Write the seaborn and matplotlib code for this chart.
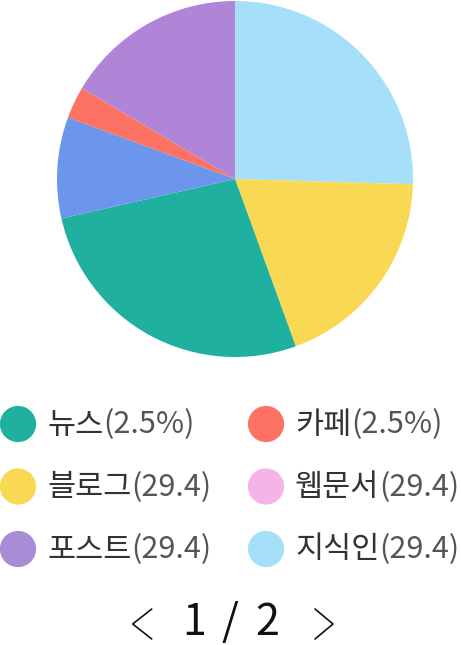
import matplotlib
matplotlib.use("Agg")
import matplotlib.pyplot as plt
import seaborn as sns
import pandas as pd

sns.set_theme(style="white")
plt.rcParams['font.family'] = ['Noto Sans CJK KR', 'DejaVu Sans']

# pie slices, clockwise from 12 o'clock (share in %)
slice_names = ['지식인', '블로그', '뉴스', '기타', '카페', '포스트']
slice_values = [25.5, 19.0, 27.0, 9.2, 2.9, 16.5]
slice_colors = ['#A6DFFA', '#F9D953', '#1FB0A0', '#6C96EC', '#FD7262', '#B085D8']

# legend page 1 of 2
legend_names = ['뉴스', '카페', '블로그', '웹문서', '포스트', '지식인']
legend_values = ['(2.5%)', '(2.5%)', '(29.4)', '(29.4)', '(29.4)', '(29.4)']
legend_colors = ['#1FB0A0', '#FD7262', '#F9D953', '#F4B4E8', '#A68DD5', '#A6DFFA']
page_parts = ['1', '/', '2']

W, H = 461, 645
fig = plt.figure(figsize=(W / 100, H / 100), dpi=100)

# pie
ax = fig.add_axes([57 / W, (H - 357) / H, 356 / W, 356 / H])
ax.pie(slice_values, colors=slice_colors, startangle=90, counterclock=False,
       radius=1, wedgeprops=dict(linewidth=0))
ax.set_xlim(-1, 1)
ax.set_ylim(-1, 1)
ax.set_aspect('equal')
ax.axis('off')

# overlay in pixel units for legend + pager
lax = fig.add_axes([0, 0, 1, 1])
lax.set_xlim(0, W)
lax.set_ylim(H, 0)
lax.axis('off')

leg = pd.DataFrame({'name': legend_names, 'value': legend_values, 'color': legend_colors})
leg['col'] = leg.index % 2
leg['row'] = leg.index // 2
leg['x'] = 18 + leg['col'] * 248
leg['y'] = 424 + leg['row'] * 62.5

sns.scatterplot(data=leg, x='x', y='y', hue='name', palette=dict(zip(legend_names, legend_colors)),
                s=680, linewidth=0, legend=False, ax=lax, clip_on=False)

fig.canvas.draw()
r = fig.canvas.get_renderer()
for _, row in leg.iterrows():
    t = lax.text(row['x'] + 29, row['y'] + 1, row['name'], fontsize=22, color='#333333',
                 va='center', ha='left')
    bb = t.get_window_extent(renderer=r)
    lax.text(bb.x1, row['y'] + 1, row['value'], fontsize=22, color='#555555',
             va='center', ha='left')

# pager
for px, s in zip([194, 230, 267], page_parts):
    lax.text(px, 623, s, fontsize=31, color='#111111', ha='center', va='center')
lax.plot([151.7, 132.7, 151.7], [609, 624, 639], color='#111111', lw=1.2)
lax.plot([315, 333, 315], [609, 624, 639], color='#111111', lw=1.2)

fig.savefig('out.png', dpi=100)
